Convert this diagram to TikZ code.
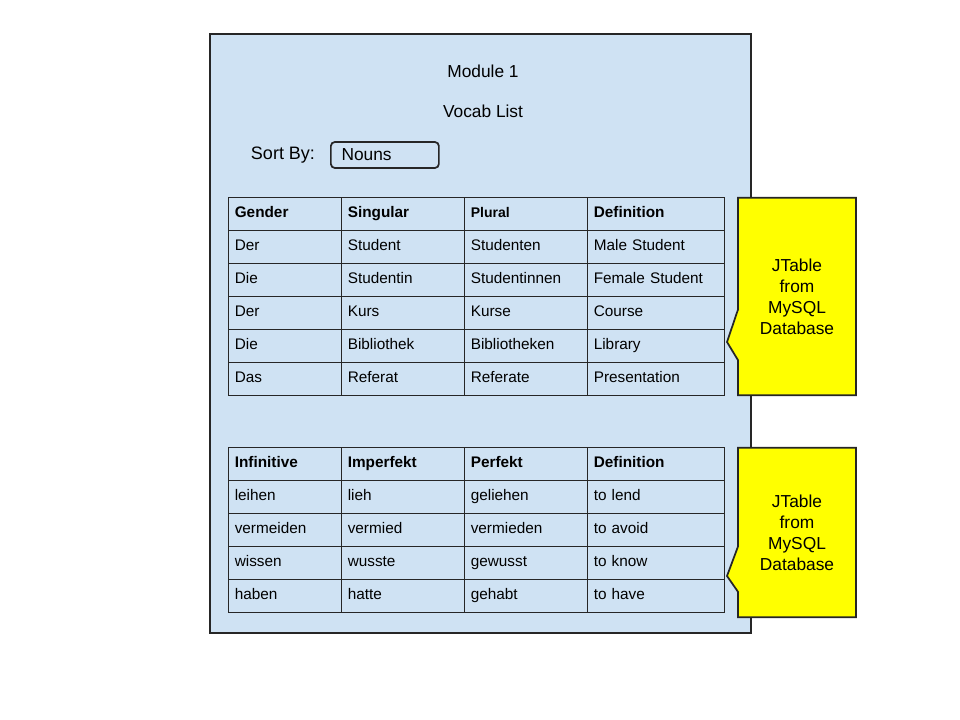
\documentclass[tikz,border=0pt]{standalone}
\usepackage{fontspec}
\setmainfont{Liberation Sans}
\usetikzlibrary{matrix,shapes.callouts}
\definecolor{paleblue}{HTML}{CFE2F3}
\definecolor{noteyellow}{HTML}{FFFF00}

\begin{document}
\begin{tikzpicture}[x=0.75pt, y=-0.75pt,
  panel/.style = {draw=black!85, line width=1.4pt, fill=paleblue,
    minimum width=405.75pt, minimum height=449.25pt, anchor=north west},
  title/.style = {font=\fontsize{13}{15}\selectfont},
  cell/.style = {draw=black!85, line width=0.8pt, minimum height=24.75pt,
    text height=8pt, text depth=3pt, inner xsep=4.5pt, align=left,
    font=\fontsize{11.5}{13}\selectfont},
  head/.style = {font=\fontsize{11.5}{13}\selectfont\bfseries},
  vocab table/.style = {matrix of nodes, anchor=north west, inner sep=0pt,
    column sep=-0.8pt, row sep=-0.8pt, nodes={cell},
    column 1/.style={nodes={text width=75.75pt}},
    column 2/.style={nodes={text width=83.25pt}},
    column 3/.style={nodes={text width=83.25pt}},
    column 4/.style={nodes={text width=93.75pt}},
    row 1/.style={nodes={head}}},
  note/.style = {rectangle callout, draw=black!85, line width=1.3pt,
    fill=noteyellow, align=center, minimum width=88.5pt,
    font=\fontsize{13}{15.75}\selectfont}]
  \useasboundingbox (0,0) rectangle (960,720);

  \node [panel] (frame) at (209,33) {};
  \node [title] (module) at (483,71) {Module 1};
  \node [title] (list) at (483,111) {Vocab List};

  % sort selector
  \node [font=\fontsize{13.5}{15}\selectfont] (sortby) at (283,155) {Sort By:};
  \node [draw=black!85, line width=1.3pt, rounded corners=3pt, anchor=west,
    minimum width=81pt, minimum height=19.5pt, inner xsep=8pt,
    text width=65pt, align=left, font=\fontsize{13}{15}\selectfont]
    (sortbox) at (330,155) {Nouns};

  % nouns table
  \matrix (nouns) [vocab table] at (228,197) {
    Gender & Singular & |[font=\fontsize{10.5}{12}\selectfont\bfseries]| Plural & Definition \\
    Der & Student & Studenten & Male Student \\
    Die & Studentin & Studentinnen & Female Student \\
    Der & Kurs & Kurse & Course \\
    Die & Bibliothek & Bibliotheken & Library \\
    Das & Referat & Referate & Presentation \\
  };

  % verbs table
  \matrix (verbs) [vocab table] at (228,447) {
    Infinitive & Imperfekt & Perfekt & Definition \\
    leihen & lieh & geliehen & to lend \\
    vermeiden & vermied & vermieden & to avoid \\
    wissen & wusste & gewusst & to know \\
    haben & hatte & gehabt & to have \\
  };

  % callouts
  \node [note, minimum height=148pt, callout pointer width=38pt,
    callout absolute pointer={(727,342)}] (db nouns) at (797,296.5)
    {JTable\\from\\MySQL\\Database};
  \node [note, minimum height=127pt, callout pointer width=34pt,
    callout absolute pointer={(727,576)}] (db verbs) at (797,532.5)
    {JTable\\from\\MySQL\\Database};
\end{tikzpicture}
\end{document}
